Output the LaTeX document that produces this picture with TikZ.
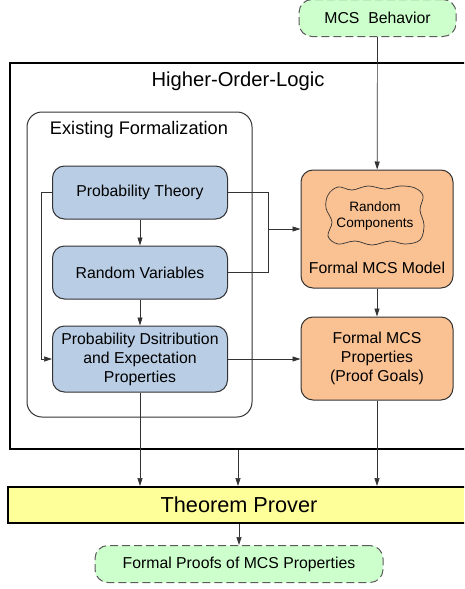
\documentclass[tikz,border=0pt]{standalone}
\usepackage{fontspec}
\setmainfont{Liberation Sans}
\usepackage{tikz}
\usetikzlibrary{arrows.meta}

\definecolor{probblue}{HTML}{B9CDE5}
\definecolor{mcsorange}{HTML}{FAC192}
\definecolor{mintgreen}{HTML}{CCFFCC}
\definecolor{proveryellow}{HTML}{FFFF99}
\definecolor{edgegray}{HTML}{333333}

\tikzstyle{txt}=[font=\fontsize{15.8}{19}\selectfont, inner sep=0pt, align=center]
\tikzstyle{bluebox}=[txt, draw=edgegray, line width=1pt, fill=probblue, rounded corners=12pt, minimum width=175pt, minimum height=53pt]
\tikzstyle{orangebox}=[txt, draw=edgegray, line width=1pt, fill=mcsorange, rounded corners=12pt, minimum width=152pt]
\tikzstyle{dashbox}=[txt, draw=edgegray!80, line width=1pt, fill=mintgreen, dash pattern=on 8pt off 4pt, rounded corners=13pt, minimum height=37pt]
\tikzstyle{arr}=[draw=edgegray, line width=0.7pt, -{Triangle[length=8pt,width=5pt]}]
\tikzstyle{lnk}=[draw=edgegray, line width=0.7pt]

\begin{document}
\begin{tikzpicture}[x=1pt,y=-1pt]
  \useasboundingbox (0,0) rectangle (464,589);
  \clip (0,0) rectangle (464,589);

  % frames
  \node[draw=black, line width=2pt, minimum width=456pt, minimum height=386pt] (hol) at (238,256) {};
  \node[txt, font=\fontsize{20.2}{24}\selectfont] (hollabel) at (238,81) {Higher-Order-Logic};
  \node[draw=edgegray, line width=1pt, rounded corners=15pt, fill=white, minimum width=225pt, minimum height=305pt] (exist) at (139.5,264.5) {};
  \node[txt, font=\fontsize{18.2}{22}\selectfont] (existlabel) at (139,130) {Existing Formalization};

  % existing theories
  \node[bluebox] (prob) at (140,192.5) {Probability Theory};
  \node[bluebox] (rv) at (140,272.5) {Random Variables};
  \node[bluebox, minimum height=66pt] (pd) at (140,359) {Probability Dsitribution\\and Expectation\\Properties};

  % MCS side
  \node[dashbox, minimum width=157pt] (beh) at (377.5,18) {MCS\ \ Behavior};
  \node[orangebox, minimum height=118pt] (model) at (377,229) {};
  \draw[draw=edgegray, line width=0.7pt] plot[smooth cycle, tension=0.6] coordinates {
    (328,195) (338,187) (352,190) (368,186) (385,189) (400,186) (415,188) (423,196)
    (420,210) (424,225) (420,240) (405,244) (390,241) (372,245) (355,241) (338,244)
    (328,236) (332,222) (326,208)};
  \node[txt, font=\fontsize{13.6}{16.5}\selectfont] (randcomp) at (375,216) {Random\\Components};
  \node[txt] (modellabel) at (377,268) {Formal MCS Model};
  \node[orangebox, minimum height=83pt] (props) at (377,358.5) {Formal MCS\\Properties\\(Proof Goals)};

  % prover
  \node[txt, draw=black, line width=2pt, fill=proveryellow, minimum width=462pt, minimum height=36pt, font=\fontsize{21.7}{26}\selectfont] (tp) at (239,505) {Theorem Prover};
  \node[dashbox, minimum width=288pt] (proofs) at (239,564) {Formal Proofs of MCS Properties};

  % connectors
  \coordinate (join) at (268,229);
  \draw[arr] (beh) -- (model);
  \draw[arr] (prob) -- (rv);
  \draw[arr] (rv) -- (pd);
  \draw[arr] (prob.west) -- ++(-11,0) |- (pd.west);
  \draw[lnk] (prob.east) -| (join |- rv.east) -- (rv.east);
  \draw[arr] (join) -- (model.west);
  \draw[arr] (pd.east) -- (pd.east -| props.west);
  \draw[arr] (model) -- (props);
  \draw[arr] (pd.south) -- (pd.south |- tp.north);
  \draw[arr] (hol.south) -- (hol.south |- tp.north);
  \draw[arr] (props.south) -- (props.south |- tp.north);
  \draw[arr] (tp) -- (proofs);
\end{tikzpicture}
\end{document}
